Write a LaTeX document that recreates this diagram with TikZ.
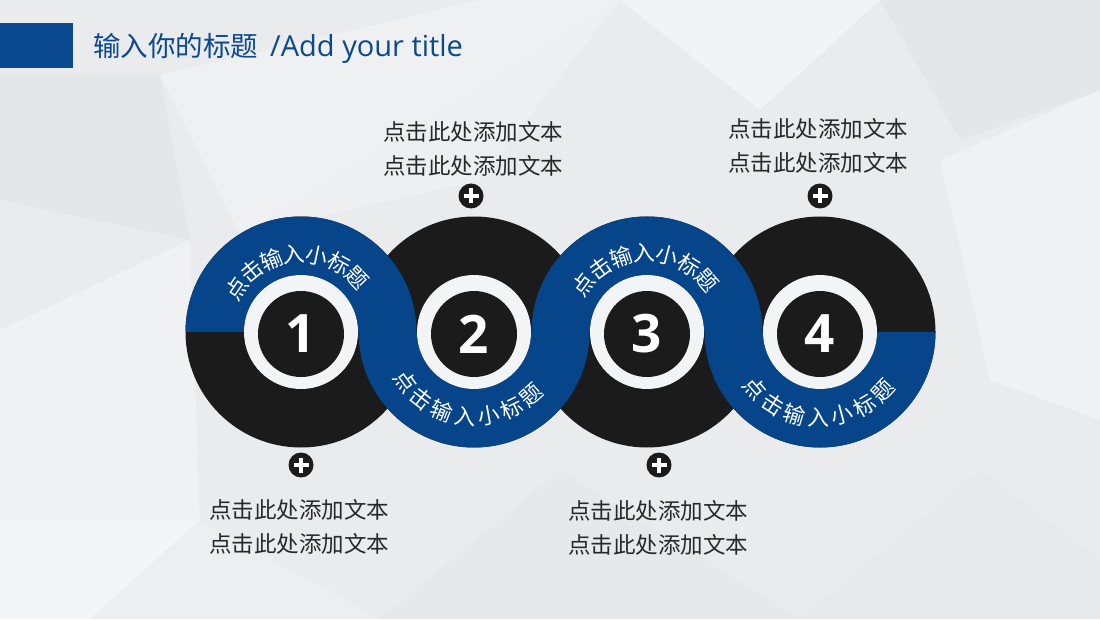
\documentclass[tikz,border=0pt]{standalone}
\usepackage{fontspec}
\setmainfont{Open Sans}
\newfontfamily\cjk{Noto Sans CJK SC}
\newfontfamily\osans{Open Sans}
\usetikzlibrary{calc}
\definecolor{bandblue}{RGB}{6,69,138}
\definecolor{discblack}{RGB}{27,27,27}
\definecolor{ringwhite}{RGB}{243,244,245}
\definecolor{txtgray}{RGB}{40,40,40}
\definecolor{titleblue}{RGB}{10,72,143}
\definecolor{bgbase}{RGB}{234,235,237}
\begin{document}
\begin{tikzpicture}[x=1pt,y=1pt,
  disc/.style={circle,fill=discblack,minimum size=231pt,inner sep=0pt},
  ring/.style={circle,fill=ringwhite,minimum size=114pt,inner sep=0pt},
  core/.style={circle,fill=discblack,minimum size=86pt,inner sep=0pt,text=white,
    font=\osans\bfseries\fontsize{53}{53}\selectfont},
  arcchar/.style={inner sep=0pt,text=white,font=\cjk\fontsize{22}{22}\selectfont},
  note/.style={align=center,text=txtgray,inner sep=0pt,font=\cjk\fontsize{22.5}{34}\selectfont},
  plusicon/.style={circle,fill=discblack,minimum size=25pt,inner sep=0pt,
    path picture={
      \draw[white,line width=4.5pt] (path picture bounding box.center) ++(-7.5pt,0pt) -- ++(15pt,0pt);
      \draw[white,line width=4.5pt] (path picture bounding box.center) ++(0pt,-7.5pt) -- ++(0pt,15pt);}},
  facet/.style={draw=none}
]
\useasboundingbox (0,0) rectangle (1100,619);
% background
\fill[bgbase] (0,0) rectangle (1100,619);
\begin{scope}[yshift=619pt,yscale=-1]
  \fill[facet,fill={rgb,255:red,229;green,230;blue,232}] (0,75) -- (160,75) -- (190,240) -- (0,200) -- cycle;
  \fill[facet,fill={rgb,255:red,240;green,241;blue,242}] (0,330) -- (190,240) -- (200,520) -- (0,520) -- cycle;
  \fill[facet,fill={rgb,255:red,244;green,245;blue,246}] (0,520) -- (200,520) -- (90,619) -- (0,619) -- cycle;
  \fill[facet,fill={rgb,255:red,239;green,240;blue,241}] (160,75) -- (480,0) -- (620,0) -- (240,235) -- cycle;
  \fill[facet,fill={rgb,255:red,242;green,243;blue,244}] (620,0) -- (880,0) -- (760,110) -- cycle;
  \fill[facet,fill={rgb,255:red,229;green,230;blue,232}] (880,0) -- (1100,0) -- (1100,90) -- (960,140) -- cycle;
  \fill[facet,fill={rgb,255:red,240;green,241;blue,242}] (940,160) -- (1100,90) -- (1100,420) -- (990,380) -- cycle;
  \fill[facet,fill={rgb,255:red,231;green,232;blue,234}] (380,619) -- (560,470) -- (800,619) -- cycle;
  \fill[facet,fill={rgb,255:red,232;green,233;blue,235}] (800,619) -- (980,470) -- (1100,560) -- (1100,619) -- cycle;
  \fill[facet,fill={rgb,255:red,237;green,238;blue,240}] (200,520) -- (380,619) -- (90,619) -- cycle;
  \fill[facet,fill={rgb,255:red,238;green,239;blue,241}] (240,235) -- (480,180) -- (620,0) -- cycle;
\end{scope}
% title
\fill[titleblue] (0,596) rectangle (73,551);
\node[anchor=base west,text=titleblue,inner sep=0pt] (title) at (93,562)
  {\cjk\fontsize{27.5}{27.5}\selectfont 输入你的标题\hspace{12pt}{\osans\fontsize{29}{29}\selectfont /Add your title}};
% discs
\node[disc] (d1) at (301,287) {};
\node[disc] (d2) at (474,287) {};
\node[disc] (d3) at (647,287) {};
\node[disc] (d4) at (820,287) {};
% blue band
\fill[bandblue] ($(d1.center)+(180:115.5)$) arc[start angle=180,end angle=0,radius=115.5]
  -- ++(-58.5,0) arc[start angle=0,end angle=180,radius=57] -- cycle;
\fill[bandblue] ($(d2.center)+(180:115.5)$) arc[start angle=180,end angle=360,radius=115.5]
  -- ++(-58.5,0) arc[start angle=360,end angle=180,radius=57] -- cycle;
\fill[bandblue] ($(d3.center)+(180:115.5)$) arc[start angle=180,end angle=0,radius=115.5]
  -- ++(-58.5,0) arc[start angle=0,end angle=180,radius=57] -- cycle;
\fill[bandblue] ($(d4.center)+(180:115.5)$) arc[start angle=180,end angle=360,radius=115.5]
  -- ++(-58.5,0) arc[start angle=360,end angle=180,radius=57] -- cycle;
% rings and numbers
\foreach \k in {1,2,3,4}{
  \node[ring] (r\k) at (d\k.center) {};
  \node[core] (n\k) at ($(d\k.center)+(0,-2)$) {\k};
}
% arc texts
\foreach \ch [count=\i from 0] in {点,击,输,入,小,标,题}{
  \node[arcchar,rotate={146-17*\i-90}] (ta\i) at ($(d1.center)+({146-17*\i}:78)$) {\ch};
  \node[arcchar,rotate={143-17*\i-90}] (tc\i) at ($(d3.center)+({143-17*\i}:79)$) {\ch};
  \node[arcchar,rotate={216+16*\i+90}] (tb\i) at ($(d2.center)+({216+16*\i}:85)$) {\ch};
  \node[arcchar,rotate={221+16*\i+90}] (td\i) at ($(d4.center)+({221+16*\i}:86)$) {\ch};
}
% plus icons
\node[plusicon] (p2) at (471,423) {};
\node[plusicon] (p4) at (820,423) {};
\node[plusicon] (p1) at (301,154) {};
\node[plusicon] (p3) at (659,154) {};
% notes
\node[note] (a2) at (473,470.5) {点击此处添加文本\\点击此处添加文本};
\node[note] (a4) at (818,473.5) {点击此处添加文本\\点击此处添加文本};
\node[note] (a1) at (299,92.5) {点击此处添加文本\\点击此处添加文本};
\node[note] (a3) at (658,91) {点击此处添加文本\\点击此处添加文本};
\end{tikzpicture}
\end{document}
